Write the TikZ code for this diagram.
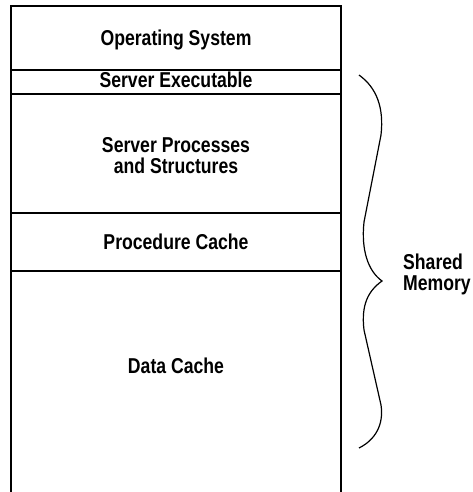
\documentclass[tikz,border=0pt]{standalone}
\usepackage{fontspec}
\setmainfont{Liberation Sans}[FakeStretch=0.82]
\usepackage{tikz}
\usetikzlibrary{positioning}

\tikzset{
  rule/.style={draw=black, line width=1.5pt},
  label/.style={font=\bfseries\fontsize{21.5}{21}\selectfont, inner sep=0pt, align=center},
}

\begin{document}
\begin{tikzpicture}[x=1pt,y=-1pt]
  \useasboundingbox (0,0) rectangle (472,492);
  % memory column, open at the bottom
  \draw[rule] (11,492) -- (11,6) -- (341,6) -- (341,492);
  \foreach \y in {70,94,213,271}
    \draw[rule] (11,\y) -- (341,\y);
  % layers
  \node[label, anchor=base] (os) at (176,46) {Operating System};
  \node[label, anchor=base] (exe) at (176,87.5) {Server Executable};
  \node[label] (procs) at (176,156) {Server Processes\\and Structures};
  \node[label, anchor=base] (pcache) at (176,249) {Procedure Cache};
  \node[label, anchor=base] (dcache) at (176,373) {Data Cache};
  % brace over the shared part
  \coordinate (btop) at (359,75);
  \coordinate (btip) at (382,281);
  \coordinate (bbot) at (359,448);
  \draw[line width=1.2pt]
    (btop) .. controls (377,88) and (384,108) .. (381,135)
    -- (364,222)
    .. controls (361,250) and (368,271) .. (btip)
    .. controls (368,291) and (361,305) .. (364,330)
    -- (381,405)
    .. controls (384,425) and (375,440) .. (bbot);
  \node[label, align=left, anchor=west] (shm) at (403,274) {Shared\\Memory};
\end{tikzpicture}
\end{document}
